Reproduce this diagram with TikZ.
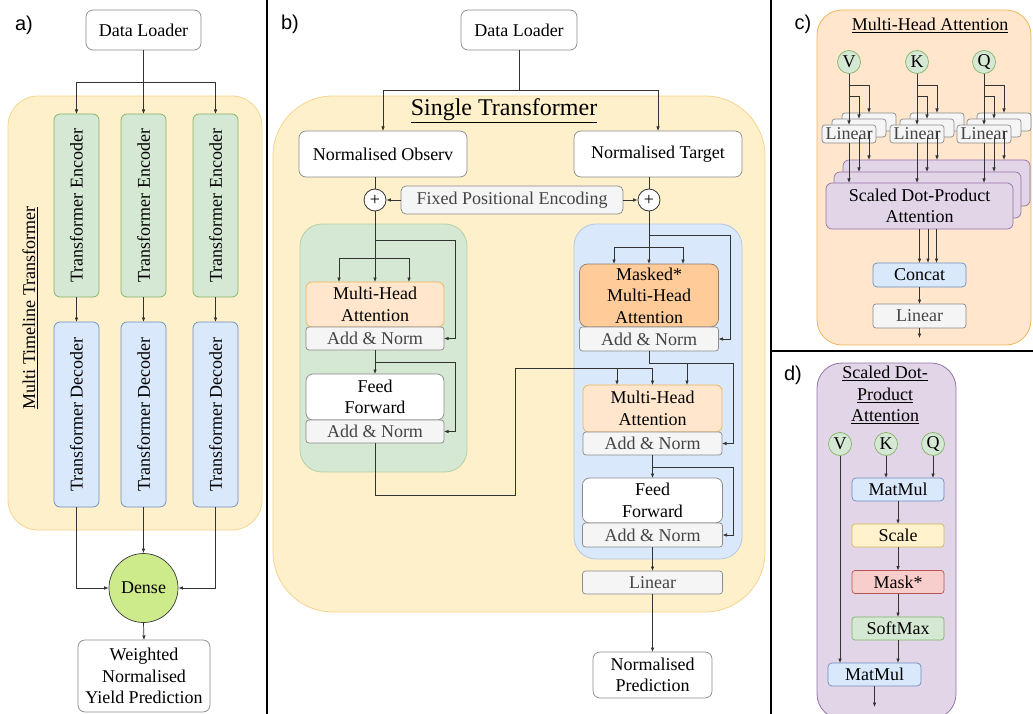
\documentclass[tikz,border=0pt]{standalone}
\usepackage{fontspec}
\usepackage{graphicx}
\setmainfont{Liberation Serif}
\newfontfamily\panelfont{Liberation Sans}
\usetikzlibrary{arrows.meta,calc}
\definecolor{lineC}{HTML}{333333}
\definecolor{yelF}{HTML}{FFF0CC}
\definecolor{yelD}{HTML}{F5D48F}
\definecolor{grnF}{HTML}{D5E8D4}
\definecolor{grnD}{HTML}{82B366}
\definecolor{bluF}{HTML}{DAE8FC}
\definecolor{bluD}{HTML}{6C8EBF}
\definecolor{oraF}{HTML}{FFE6CC}
\definecolor{oraD}{HTML}{F0B55A}
\definecolor{dorF}{HTML}{FFCC99}
\definecolor{dorD}{HTML}{8C7B6B}
\definecolor{gryF}{HTML}{F5F5F5}
\definecolor{gryD}{HTML}{8A8A8A}
\definecolor{gryT}{HTML}{444444}
\definecolor{purF}{HTML}{E1D5E7}
\definecolor{purD}{HTML}{9673A6}
\definecolor{redF}{HTML}{F8CECC}
\definecolor{redD}{HTML}{B85450}
\definecolor{denF}{HTML}{CDEB8B}
\definecolor{denD}{HTML}{36393D}
\definecolor{scF}{HTML}{FFF2CC}
\definecolor{scD}{HTML}{D6B656}
\newcommand\fsmain{\fontsize{18}{21.6}\selectfont}
\newcommand\fsbig{\fontsize{24}{28}\selectfont}
\newcommand\fspanel{\fontsize{20}{24}\selectfont}
\tikzset{
  blk/.style={rectangle, inner sep=0pt, outer sep=0pt, align=center, line width=0.7pt, font=\fsmain},
  sz/.style 2 args={minimum width=#1pt, minimum height=#2pt},
  wbox/.style={blk, draw=gryD, fill=white, text=black, rounded corners=7pt},
  gbox/.style={blk, draw=gryD, fill=gryF, text=gryT, rounded corners=3pt},
  grbox/.style={blk, draw=grnD, fill=grnF, rounded corners=6pt},
  blbox/.style={blk, draw=bluD, fill=bluF, rounded corners=6pt},
  obox/.style={blk, draw=oraD, fill=oraF, rounded corners=6pt},
  dobox/.style={blk, draw=dorD, fill=dorF, rounded corners=8pt},
  pbox/.style={blk, draw=purD, fill=purF, rounded corners=6pt},
  ybox/.style={blk, draw=scD, fill=scF, rounded corners=3pt},
  rbox/.style={blk, draw=redD, fill=redF, rounded corners=3pt},
  cont/.style={rectangle, inner sep=0pt, line width=0.8pt},
  vcirc/.style={circle, inner sep=0pt, draw=grnD, fill=grnF, minimum size=23pt, font=\fsmain, line width=0.7pt},
  pluscirc/.style={circle, inner sep=0pt, draw=lineC, fill=white, minimum size=22pt, line width=0.8pt, font=\fsmain},
  ln/.style={draw=lineC, line width=0.7pt},
  arr/.style={ln, -{Latex[length=4.5pt,width=3.6pt]}},
  plab/.style={font=\panelfont\fspanel, inner sep=0pt},
  ttl/.style={font=\fsmain, inner sep=0pt, align=center},
}
\begin{document}
\begin{tikzpicture}[x=1pt,y=-1pt]
\useasboundingbox (0,0) rectangle (1033,714);
% ================= panel a
\node[cont, draw=yelD, fill=yelF, rounded corners=30pt, sz={254}{434}] (ca) at (135,313) {};
\node[plab] (la) at (24,25) {a)};
\node[wbox, sz={115}{40}] (dla) at (143.5,30) {Data Loader};
\node[grbox, sz={45}{183}] (e1) at (76.5,205.5) {\rotatebox{90}{Transformer Encoder}};
\node[grbox, sz={45}{183}] (e2) at (143.5,205.5) {\rotatebox{90}{Transformer Encoder}};
\node[grbox, sz={45}{183}] (e3) at (215.5,205.5) {\rotatebox{90}{Transformer Encoder}};
\node[blbox, sz={45}{185}] (d1) at (76.5,414.5) {\rotatebox{90}{Transformer Decoder}};
\node[blbox, sz={45}{185}] (d2) at (143.5,414.5) {\rotatebox{90}{Transformer Decoder}};
\node[blbox, sz={45}{185}] (d3) at (215.5,414.5) {\rotatebox{90}{Transformer Decoder}};
\node[circle, draw=denD, fill=denF, minimum size=69pt, inner sep=0pt, font=\fsmain, line width=0.7pt] (dense) at (143.5,588) {Dense};
\node[wbox, sz={132}{72}] (outa) at (144,676) {Weighted\\Normalised\\Yield Prediction};
\node[ttl] (tmt) at (30,308) {\rotatebox{90}{\underline{Multi Timeline Transformer}}};
\coordinate (ja) at (143.5,82);
\draw[ln] (dla.south) -- (ja);
\draw[arr] (ja) -| (e1.north);
\draw[arr] (ja) -- (e2.north);
\draw[arr] (ja) -| (e3.north);
\foreach \i in {1,2,3} \draw[arr] (e\i.south) -- (d\i.north);
\draw[arr] (d1.south) |- (dense.west);
\draw[arr] (d2.south) -- (dense.north);
\draw[arr] (d3.south) |- (dense.east);
\draw[arr] (dense.south) -- (outa.north);
% ================= panel b
\node[cont, draw=yelD, fill=yelF, rounded corners=60pt, sz={492}{516}] (cb) at (519,354) {};
\node[plab] (lb) at (290,24) {b)};
\node[wbox, sz={116}{40}] (dlb) at (519,30) {Data Loader};
\node[font=\fsbig, inner sep=0pt] (tst) at (504,111) {\underline{Single Transformer}};
\node[wbox, sz={168}{46}] (nobs) at (383,154) {Normalised Observ};
\node[wbox, sz={168}{46}] (ntgt) at (658,154) {Normalised Target};
\node[pluscirc] (pl) at (375,200) {+};
\node[pluscirc] (pr) at (649,200) {+};
\node[gbox, sz={222}{28}, rounded corners=5pt] (fpe) at (512,200) {Fixed Positional Encoding};
\node[cont, draw=grnD!60, fill=grnF, rounded corners=22pt, sz={167}{248}] (encb) at (383.5,348) {};
\node[cont, draw=bluD!50, fill=bluF, rounded corners=22pt, sz={168}{335}] (decb) at (658,391.5) {};
% encoder
\node[obox, sz={138}{45}] (mha1) at (375,304.5) {Multi-Head\\Attention};
\node[gbox, sz={138}{23}] (an1) at (375,338.5) {Add \& Norm};
\node[wbox, sz={138}{46}] (ff1) at (375,397) {Feed\\Forward};
\node[gbox, sz={138}{23}] (an2) at (375,431.5) {Add \& Norm};
% decoder
\node[dobox, sz={139}{63}] (mmha) at (649,295.5) {Masked*\\Multi-Head\\Attention};
\node[gbox, sz={139}{24}] (an3) at (649,339) {Add \& Norm};
\node[obox, sz={139}{47}] (mha2) at (652.5,408.5) {Multi-Head\\Attention};
\node[gbox, sz={139}{23}] (an4) at (652.5,443.5) {Add \& Norm};
\node[wbox, sz={140}{45}] (ff2) at (652.5,500.5) {Feed\\Forward};
\node[gbox, sz={140}{24}] (an5) at (652.5,535) {Add \& Norm};
\node[gbox, sz={140}{23}] (linb) at (652.5,582.5) {Linear};
\node[wbox, sz={119}{46}] (npred) at (652.5,675) {Normalised\\Prediction};
% connectors b
\coordinate (jb) at (519,90);
\draw[ln] (dlb.south) -- (jb);
\draw[arr] (jb) -| (nobs.north);
\draw[arr] (jb) -| (ntgt.north);
\draw[ln] (pl.north |- nobs.south) -- (pl.north);
\draw[ln] (pr.north |- ntgt.south) -- (pr.north);
\draw[arr] (fpe.west) -- (pl.east);
\draw[arr] (fpe.east) -- (pr.west);
\draw[arr] (pl.south) -- (mha1.north);
\coordinate (ea) at (375,258);
\draw[arr] (ea) -| ([xshift=-36pt]mha1.north);
\draw[arr] (ea) -| ([xshift=34pt]mha1.north);
\coordinate (er1) at (375,240);
\draw[arr] (er1) -- (455,240) |- (an1.east);
\draw[arr] (an1.south) -- (ff1.north);
\coordinate (er2) at (375,362);
\draw[arr] (er2) -- (455,362) |- (an2.east);
\coordinate (eo) at (652.5,368);
\draw[ln] (an2.south) -- (375,495) -- (515,495) -- (515,368) -- (eo);
\draw[arr] (eo) -- (mha2.north);
\draw[arr] (617,368) -- ([xshift=-35.5pt]mha2.north);
\draw[arr] (pr.south) -- (mmha.north);
\coordinate (da) at (649,247);
\draw[arr] (da) -| ([xshift=-35pt]mmha.north);
\draw[arr] (da) -| ([xshift=34pt]mmha.north);
\coordinate (dr1) at (649,235);
\draw[arr] (dr1) -- (730,235) |- (an3.east);
\coordinate (dr2) at (649,363);
\draw[ln] (an3.south) -- (dr2);
\draw[arr] (dr2) -- (733,363) |- (an4.east);
\draw[arr] (687,363) -- ([xshift=34.5pt]mha2.north);
\draw[arr] (an4.south) -- (ff2.north);
\coordinate (dr3) at (652.5,467);
\draw[arr] (dr3) -- (733,467) |- (an5.east);
\draw[arr] (an5.south) -- (linb.north);
\draw[arr] (linb.south) -- (npred.north);
% ================= panel c
\node[cont, draw=oraD, fill=oraF, rounded corners=25pt, sz={214}{335}] (cc) at (924,177.5) {};
\node[plab] (lc) at (803,24) {c)};
\node[ttl] (tmha) at (930,25) {\underline{Multi-Head Attention}};
\foreach \n/\x in {V/849,K/917,Q/984} {
  \node[vcirc] (c\n) at (\x,62) {\n};
  \node[gbox, sz={54}{18}] (lin\n3) at (\x+20,122) {};
  \node[gbox, sz={54}{18}] (lin\n2) at (\x+10,128) {};
  \node[gbox, sz={54}{18}] (lin\n1) at (\x,134) {Linear};
}
\node[pbox, sz={187}{46}] (sdp3) at (936.5,183) {};
\node[pbox, sz={187}{46}] (sdp2) at (927.5,195) {};
\node[pbox, sz={187}{46}] (sdp1) at (919.5,206) {Scaled Dot-Product\\Attention};
\foreach \n in {V,K,Q} {
  \draw[arr] (c\n.south) -- (lin\n1.north);
  \draw[arr] ([yshift=-12pt]c\n.south) -| (lin\n3.north);
  \draw[arr] ([yshift=-23pt]c\n.south) -| (lin\n2.north);
  \draw[arr] (lin\n1.south) -- (lin\n1.south |- sdp1.north);
  \draw[arr] (lin\n2.south) -- (lin\n2.south |- sdp2.north);
  \draw[arr] (lin\n3.south) -- (lin\n3.south |- sdp3.north);
}
\node[blbox, sz={93}{24}, rounded corners=4pt] (concat) at (919.5,275) {Concat};
\node[gbox, sz={93}{24}] (linc) at (919.5,316) {Linear};
\foreach \d in {0,8.5,17} \draw[arr] ([xshift=\d pt]sdp1.south) -- ([xshift=\d pt]concat.north);
\draw[arr] (concat.south) -- (linc.north);
\coordinate (cend) at (919.5,338);
\draw[arr] (linc.south) -- (cend);
% ================= panel d
\node[cont, draw=purD, fill=purF, rounded corners=25pt, sz={139}{356}] (cd) at (886.5,541) {};
\node[plab] (ld) at (793,375) {d)};
\node[ttl] (tsd) at (885,395) {\underline{Scaled Dot-}\\\underline{Product}\\\underline{Attention}};
\node[vcirc] (dV) at (840,444) {V};
\node[vcirc] (dK) at (886,444) {K};
\node[vcirc] (dQ) at (933,444) {Q};
\node[blbox, sz={92}{23}, rounded corners=4pt] (mm1) at (898,489.5) {MatMul};
\node[ybox, sz={92}{23}] (scl) at (898,535.5) {Scale};
\node[rbox, sz={92}{23}] (msk) at (898,582) {Mask*};
\node[grbox, sz={92}{23}, rounded corners=3pt] (smx) at (898,628.5) {SoftMax};
\node[blbox, sz={93}{23}, rounded corners=4pt] (mm2) at (874.5,674.5) {MatMul};
\draw[arr] (dK.south) -- (dK.south |- mm1.north);
\draw[arr] (dQ.south) -- (dQ.south |- mm1.north);
\draw[arr] (mm1.south) -- (scl.north);
\draw[arr] (scl.south) -- (msk.north);
\draw[arr] (msk.south) -- (smx.north);
\draw[arr] (smx.south) -- (smx.south |- mm2.north);
\draw[arr] (dV.south) -- (dV.south |- mm2.north);
\coordinate (dend) at (874.5,707);
\draw[arr] (mm2.south) -- (dend);
% ================= dividers
\draw[line width=2pt] (267,0) -- (267,714);
\draw[line width=2pt] (771,0) -- (771,714);
\draw[line width=2pt] (771,351) -- (1033,351);
\end{tikzpicture}
\end{document}
